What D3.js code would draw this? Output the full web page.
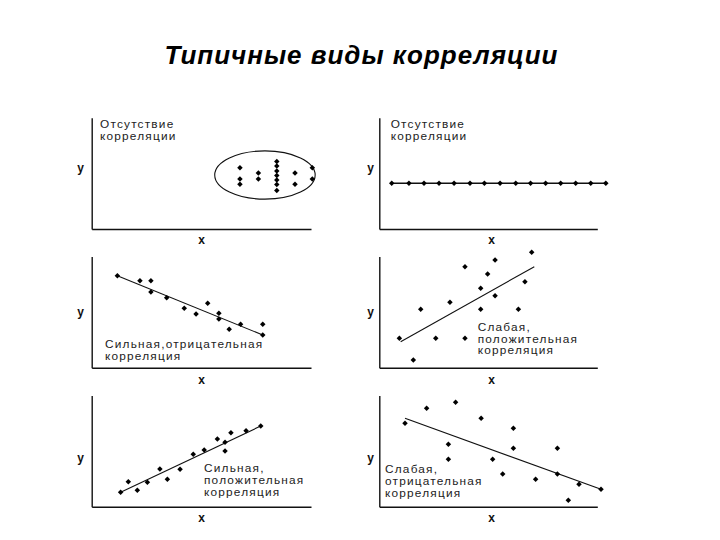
<!DOCTYPE html>
<html>
<head>
<meta charset="utf-8">
<script src="https://cdn.jsdelivr.net/npm/d3@7"></script>
<style>
  html, body { margin: 0; padding: 0; background: #fff; }
  svg { display: block; }
</style>
</head>
<body>
<svg id="chart" width="720" height="540"></svg>
<script>
// ---------- DATA ----------
const title = "Типичные виды корреляции";

// Panel 1: no correlation (cluster inside an ellipse)
const p1X = [6.76, 6.76, 6.76, 7.60, 7.60, 8.44, 8.44, 8.44, 8.44, 8.44, 8.44, 8.44, 9.27, 9.27, 10.06, 10.06];
const p1Y = [5.51, 4.49, 4.02, 5.03, 4.49, 6.06, 5.66, 5.21, 4.81, 4.40, 4.00, 3.46, 5.03, 4.02, 5.51, 4.49];
const p1Ellipse = { cx: 7.90, cy: 4.85, rx: 2.29, ry: 2.17 };
const p1Label = ["Отсутствие", "корреляции"];

// Panel 2: no correlation (constant y)
const p2X = [0.57, 1.36, 2.05, 2.74, 3.43, 4.16, 4.82, 5.54, 6.26, 6.94, 7.63, 8.32, 9.01, 9.70, 10.39];
const p2Y = [4.11, 4.11, 4.11, 4.11, 4.11, 4.11, 4.11, 4.11, 4.11, 4.11, 4.11, 4.11, 4.11, 4.11, 4.11];
const p2Label = ["Отсутствие", "корреляции"];

// Panel 3: strong negative correlation
const p3X = [1.17, 2.20, 2.70, 2.70, 3.42, 4.22, 4.76, 5.29, 5.80, 5.80, 6.27, 6.79, 7.80, 7.80];
const p3Y = [8.27, 7.82, 7.82, 6.80, 6.29, 5.34, 4.82, 5.79, 4.89, 4.38, 3.45, 3.90, 3.90, 2.94];
const p3Trend = [[1.17, 8.27], [7.80, 2.94]];
const p3Label = ["Сильная,отрицательная", "корреляция"];

// Panel 4: weak positive correlation
const p4X = [0.92, 1.56, 1.90, 2.59, 3.24, 3.93, 3.93, 4.65, 4.65, 4.97, 5.31, 5.31, 6.38, 6.68, 6.99];
const p4Y = [2.64, 0.69, 5.25, 2.64, 5.88, 9.07, 2.64, 7.13, 5.25, 8.42, 9.68, 6.47, 5.25, 7.73, 10.37];
const p4Trend = [[0.98, 2.34], [7.11, 9.07]];
const p4Label = ["Слабая,", "положительная", "корреляция"];

// Panel 5: strong positive correlation
const p5X = [1.32, 1.67, 2.08, 2.54, 3.11, 3.45, 4.03, 4.63, 5.13, 5.73, 6.08, 6.08, 6.35, 7.04, 7.71];
const p5Y = [1.29, 2.25, 1.47, 2.19, 3.39, 2.46, 3.36, 4.71, 5.09, 6.08, 5.79, 5.00, 6.65, 6.83, 7.25];
const p5Trend = [[1.32, 1.29], [7.71, 7.25]];
const p5Label = ["Сильная,", "положительная", "корреляция"];

// Panel 6: weak negative correlation
const p6X = [1.18, 2.17, 3.50, 4.67, 3.17, 3.17, 6.15, 6.15, 5.20, 5.66, 7.17, 8.17, 8.17, 9.16, 8.67, 10.17];
const p6Y = [7.49, 8.84, 9.38, 7.94, 5.61, 4.26, 7.04, 5.25, 4.26, 2.94, 2.46, 5.25, 2.94, 2.01, 0.58, 1.56];
const p6Trend = [[1.18, 7.94], [10.17, 1.56]];
const p6Label = ["Слабая,", "отрицательная", "корреляция"];

const axisLabelX = "x";
const axisLabelY = "y";

// ---------- LAYOUT ----------
const cols = [{ left: 91.7, right: 311 }, { left: 379.3, right: 597.3 }];
const rows = [
  { top: 117.7, bottom: 229, yLab: 167.7, xLab: 240 },
  { top: 256.4, bottom: 367.7, yLab: 311.7, xLab: 380 },
  { top: 395.4, bottom: 506.7, yLab: 457.7, xLab: 517.7 }
];
const colLab = [{ yLabX: 80.7, xLabX: 201.7 }, { yLabX: 370.7, xLabX: 491.7 }];

const panels = [
  { c: 0, r: 0, xs: p1X, ys: p1Y, label: p1Label, lx: 100, ly: 128.3, ellipse: p1Ellipse },
  { c: 1, r: 0, xs: p2X, ys: p2Y, label: p2Label, lx: 390.7, ly: 128.3, connect: true },
  { c: 0, r: 1, xs: p3X, ys: p3Y, label: p3Label, lx: 105, ly: 348.3, trend: p3Trend },
  { c: 1, r: 1, xs: p4X, ys: p4Y, label: p4Label, lx: 477.7, ly: 331, trend: p4Trend },
  { c: 0, r: 2, xs: p5X, ys: p5Y, label: p5Label, lx: 204, ly: 472.3, trend: p5Trend },
  { c: 1, r: 2, xs: p6X, ys: p6Y, label: p6Label, lx: 385, ly: 473.3, trend: p6Trend }
];

const svg = d3.select("#chart");
const FONT = "'Liberation Sans', Arial, Helvetica, sans-serif";
const INK = "#111";

svg.append("text")
  .attr("x", 361.5).attr("y", 63.5)
  .attr("text-anchor", "middle")
  .attr("font-family", FONT)
  .attr("font-size", 26)
  .attr("font-weight", "bold")
  .attr("font-style", "italic")
  .attr("letter-spacing", 1)
  .attr("fill", "#000")
  .text(title);

const diamond = d3.symbol().type(d3.symbolSquare).size(15);

panels.forEach(p => {
  const col = cols[p.c], row = rows[p.r];
  const x = d3.scaleLinear().domain([0, 10]).range([col.left, col.right]);
  const y = d3.scaleLinear().domain([0, 10]).range([row.bottom, row.top]);
  const g = svg.append("g");

  // axes (lines only)
  g.append("g").attr("transform", `translate(0,${row.bottom})`)
    .call(d3.axisBottom(x).tickValues([]).tickSizeOuter(0))
    .call(s => s.select(".domain").attr("stroke", INK).attr("stroke-width", 1.4));
  g.append("g").attr("transform", `translate(${col.left},0)`)
    .call(d3.axisLeft(y).tickValues([]).tickSizeOuter(0))
    .call(s => s.select(".domain").attr("stroke", INK).attr("stroke-width", 1.4));

  // axis letters
  g.append("text").attr("x", colLab[p.c].yLabX).attr("y", row.yLab)
    .attr("text-anchor", "middle").attr("dominant-baseline", "central")
    .attr("font-family", FONT).attr("font-size", 12).attr("font-weight", "bold")
    .attr("fill", INK).text(axisLabelY);
  g.append("text").attr("x", colLab[p.c].xLabX).attr("y", row.xLab)
    .attr("text-anchor", "middle").attr("dominant-baseline", "central")
    .attr("font-family", FONT).attr("font-size", 12).attr("font-weight", "bold")
    .attr("fill", INK).text(axisLabelX);

  const pts = p.xs.map((v, i) => [v, p.ys[i]]);

  if (p.ellipse) {
    g.append("ellipse")
      .attr("cx", x(p.ellipse.cx)).attr("cy", y(p.ellipse.cy))
      .attr("rx", x(p.ellipse.cx + p.ellipse.rx) - x(p.ellipse.cx))
      .attr("ry", y(p.ellipse.cy) - y(p.ellipse.cy + p.ellipse.ry))
      .attr("fill", "none").attr("stroke", INK).attr("stroke-width", 1.1);
  }
  const line = d3.line().x(d => x(d[0])).y(d => y(d[1]));
  if (p.connect) {
    g.append("path").attr("d", line(pts)).attr("fill", "none")
      .attr("stroke", INK).attr("stroke-width", 1.5);
  }
  if (p.trend) {
    g.append("path").attr("d", line(p.trend)).attr("fill", "none")
      .attr("stroke", INK).attr("stroke-width", 1.1);
  }

  g.selectAll("path.pt").data(pts).join("path")
    .attr("class", "pt")
    .attr("d", diamond)
    .attr("transform", d => `translate(${x(d[0])},${y(d[1])}) rotate(45)`)
    .attr("fill", "#000");

  // annotation (horizontally stretched, like the scanned original)
  const t = g.append("text")
    .attr("transform", `translate(${p.lx},${p.ly}) scale(1.15,1)`)
    .attr("font-family", FONT).attr("font-size", 10.3)
    .attr("letter-spacing", 1.05)
    .attr("fill", "#222");
  p.label.forEach((s, i) => {
    t.append("tspan").attr("x", 0).attr("y", i * 11.7).text(s);
  });
});
</script>
</body>
</html>
